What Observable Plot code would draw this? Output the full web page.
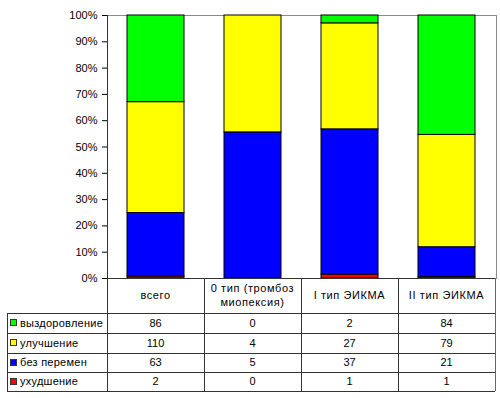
<!DOCTYPE html>
<html>
<head>
<meta charset="utf-8">
<script src="https://cdn.jsdelivr.net/npm/d3@7"></script>
<script src="https://cdn.jsdelivr.net/npm/@observablehq/plot@0.6"></script>
<style>
  html, body { margin: 0; padding: 0; background: #fff; }
  #chart { width: 500px; height: 398px; }
  svg text { font-family: "Liberation Sans", Arial, sans-serif; }
</style>
</head>
<body>
<div id="chart"></div>
<script>
const categories = ["всего", "0 тип (тромбоз миопексия)", "I тип ЭИКМА", "II тип ЭИКМА"];
const headerLines = [["всего"], ["0 тип (тромбоз", "миопексия)"], ["I тип ЭИКМА"], ["II тип ЭИКМА"]];
const seriesNames = ["ухудшение", "без перемен", "улучшение", "выздоровление"];
const seriesColors = ["#ff0000", "#0000ff", "#ffff00", "#00ff00"];
const worse = [2, 0, 1, 1];
const noChange = [63, 5, 37, 21];
const improved = [110, 4, 27, 79];
const recovered = [86, 0, 2, 84];
const yTicks = [0, 0.1, 0.2, 0.3, 0.4, 0.5, 0.6, 0.7, 0.8, 0.9, 1];

const seriesValues = [worse, noChange, improved, recovered];
const data = [];
seriesNames.forEach((s, si) => {
  categories.forEach((c, ci) => {
    data.push({cat: c, series: s, value: seriesValues[si][ci]});
  });
});

const W = 500, H = 398;
const mL = 107, mR = 4, mT = 15, mB = 120;

const chart = Plot.plot({
  width: W, height: H,
  marginLeft: mL, marginRight: mR, marginTop: mT, marginBottom: mB,
  style: {fontFamily: "'Liberation Sans', Arial, sans-serif", fontSize: "11px", color: "#000", background: "#fff"},
  x: {domain: categories, paddingInner: 0.41, paddingOuter: 0.205, axis: null},
  y: {domain: [0, 1], ticks: yTicks, tickFormat: d3.format(".0%"), label: null, tickSize: 5, tickPadding: 5},
  color: {domain: seriesNames, range: seriesColors},
  marks: [
    Plot.frame({stroke: "#8a8a8a"}),
    Plot.barY(data.filter(d => d.value > 0), Plot.stackY({
      x: "cat", y: "value", fill: "series", offset: "normalize", order: seriesNames,
      stroke: "#000", strokeWidth: 1
    })),
    Plot.axisY({ticks: yTicks, tickFormat: d3.format(".0%"), tickSize: 5, tickPadding: 5, label: null})
  ]
});

// Data table under the plot, aligned on the x band scale
const xs = chart.scale("x");
const step = xs.step;
const left = 7;
const colEdges = [left, mL];
categories.forEach((c, i) => colEdges.push(mL + (i + 1) * step));
const rowEdges = [H - mB, 313, 333, 353, 372, 391];
const right = colEdges[colEdges.length - 1];
const lineColor = "#333";

const svg = d3.select(chart);
const g = svg.append("g").attr("text-anchor", "start").attr("fill", "#000").attr("stroke", "none");
const crisp = v => Math.round(v) + 0.5;
const lines = g.append("g").attr("shape-rendering", "crispEdges");

// horizontal lines
lines.append("line").attr("x1", mL).attr("x2", right).attr("y1", crisp(rowEdges[0])).attr("y2", crisp(rowEdges[0])).attr("stroke", lineColor);
rowEdges.slice(1).forEach(y => {
  lines.append("line").attr("x1", left).attr("x2", right).attr("y1", crisp(y)).attr("y2", crisp(y)).attr("stroke", lineColor);
});
// vertical lines
lines.append("line").attr("x1", crisp(left)).attr("x2", crisp(left)).attr("y1", rowEdges[1]).attr("y2", rowEdges[5]).attr("stroke", lineColor);
lines.append("line").attr("x1", crisp(mL)).attr("x2", crisp(mL)).attr("y1", mT).attr("y2", rowEdges[5]).attr("stroke", lineColor);
colEdges.slice(2).forEach((x, i) => {
  lines.append("line").attr("x1", crisp(x)).attr("x2", crisp(x)).attr("y1", rowEdges[0]).attr("y2", rowEdges[5])
    .attr("stroke", i === colEdges.length - 3 ? "#666" : lineColor);
});

// header text
categories.forEach((c, i) => {
  const cx = xs.apply(c) + xs.bandwidth / 2;
  const hl = headerLines[i];
  const cy = (rowEdges[0] + rowEdges[1]) / 2;
  hl.forEach((t, li) => {
    g.append("text").attr("x", cx).attr("y", cy + (li - (hl.length - 1) / 2) * 14)
      .attr("dy", "0.35em").attr("text-anchor", "middle").attr("font-size", 11)
      .attr("letter-spacing", "0.6px").attr("fill", "#000").text(t);
  });
});

// body rows: top row is выздоровление, bottom ухудшение
const rowOrder = [3, 2, 1, 0];
rowOrder.forEach((si, r) => {
  const y0 = rowEdges[r + 1], y1 = rowEdges[r + 2];
  const cy = (y0 + y1) / 2;
  g.append("rect").attr("x", 10.5).attr("y", Math.round(cy) - 3.5).attr("width", 6).attr("height", 6)
    .attr("fill", seriesColors[si]).attr("stroke", "#333").attr("shape-rendering", "crispEdges");
  g.append("text").attr("x", 20).attr("y", cy).attr("dy", "0.35em").attr("font-size", 11)
    .attr("text-anchor", "start").attr("letter-spacing", "0.25px").attr("fill", "#000").text(seriesNames[si]);
  categories.forEach((c, ci) => {
    const cx = xs.apply(c) + xs.bandwidth / 2;
    g.append("text").attr("x", cx).attr("y", cy).attr("dy", "0.35em").attr("text-anchor", "middle")
      .attr("font-size", 11).attr("fill", "#000").text(seriesValues[si][ci]);
  });
});

document.getElementById("chart").appendChild(chart);
</script>
</body>
</html>
